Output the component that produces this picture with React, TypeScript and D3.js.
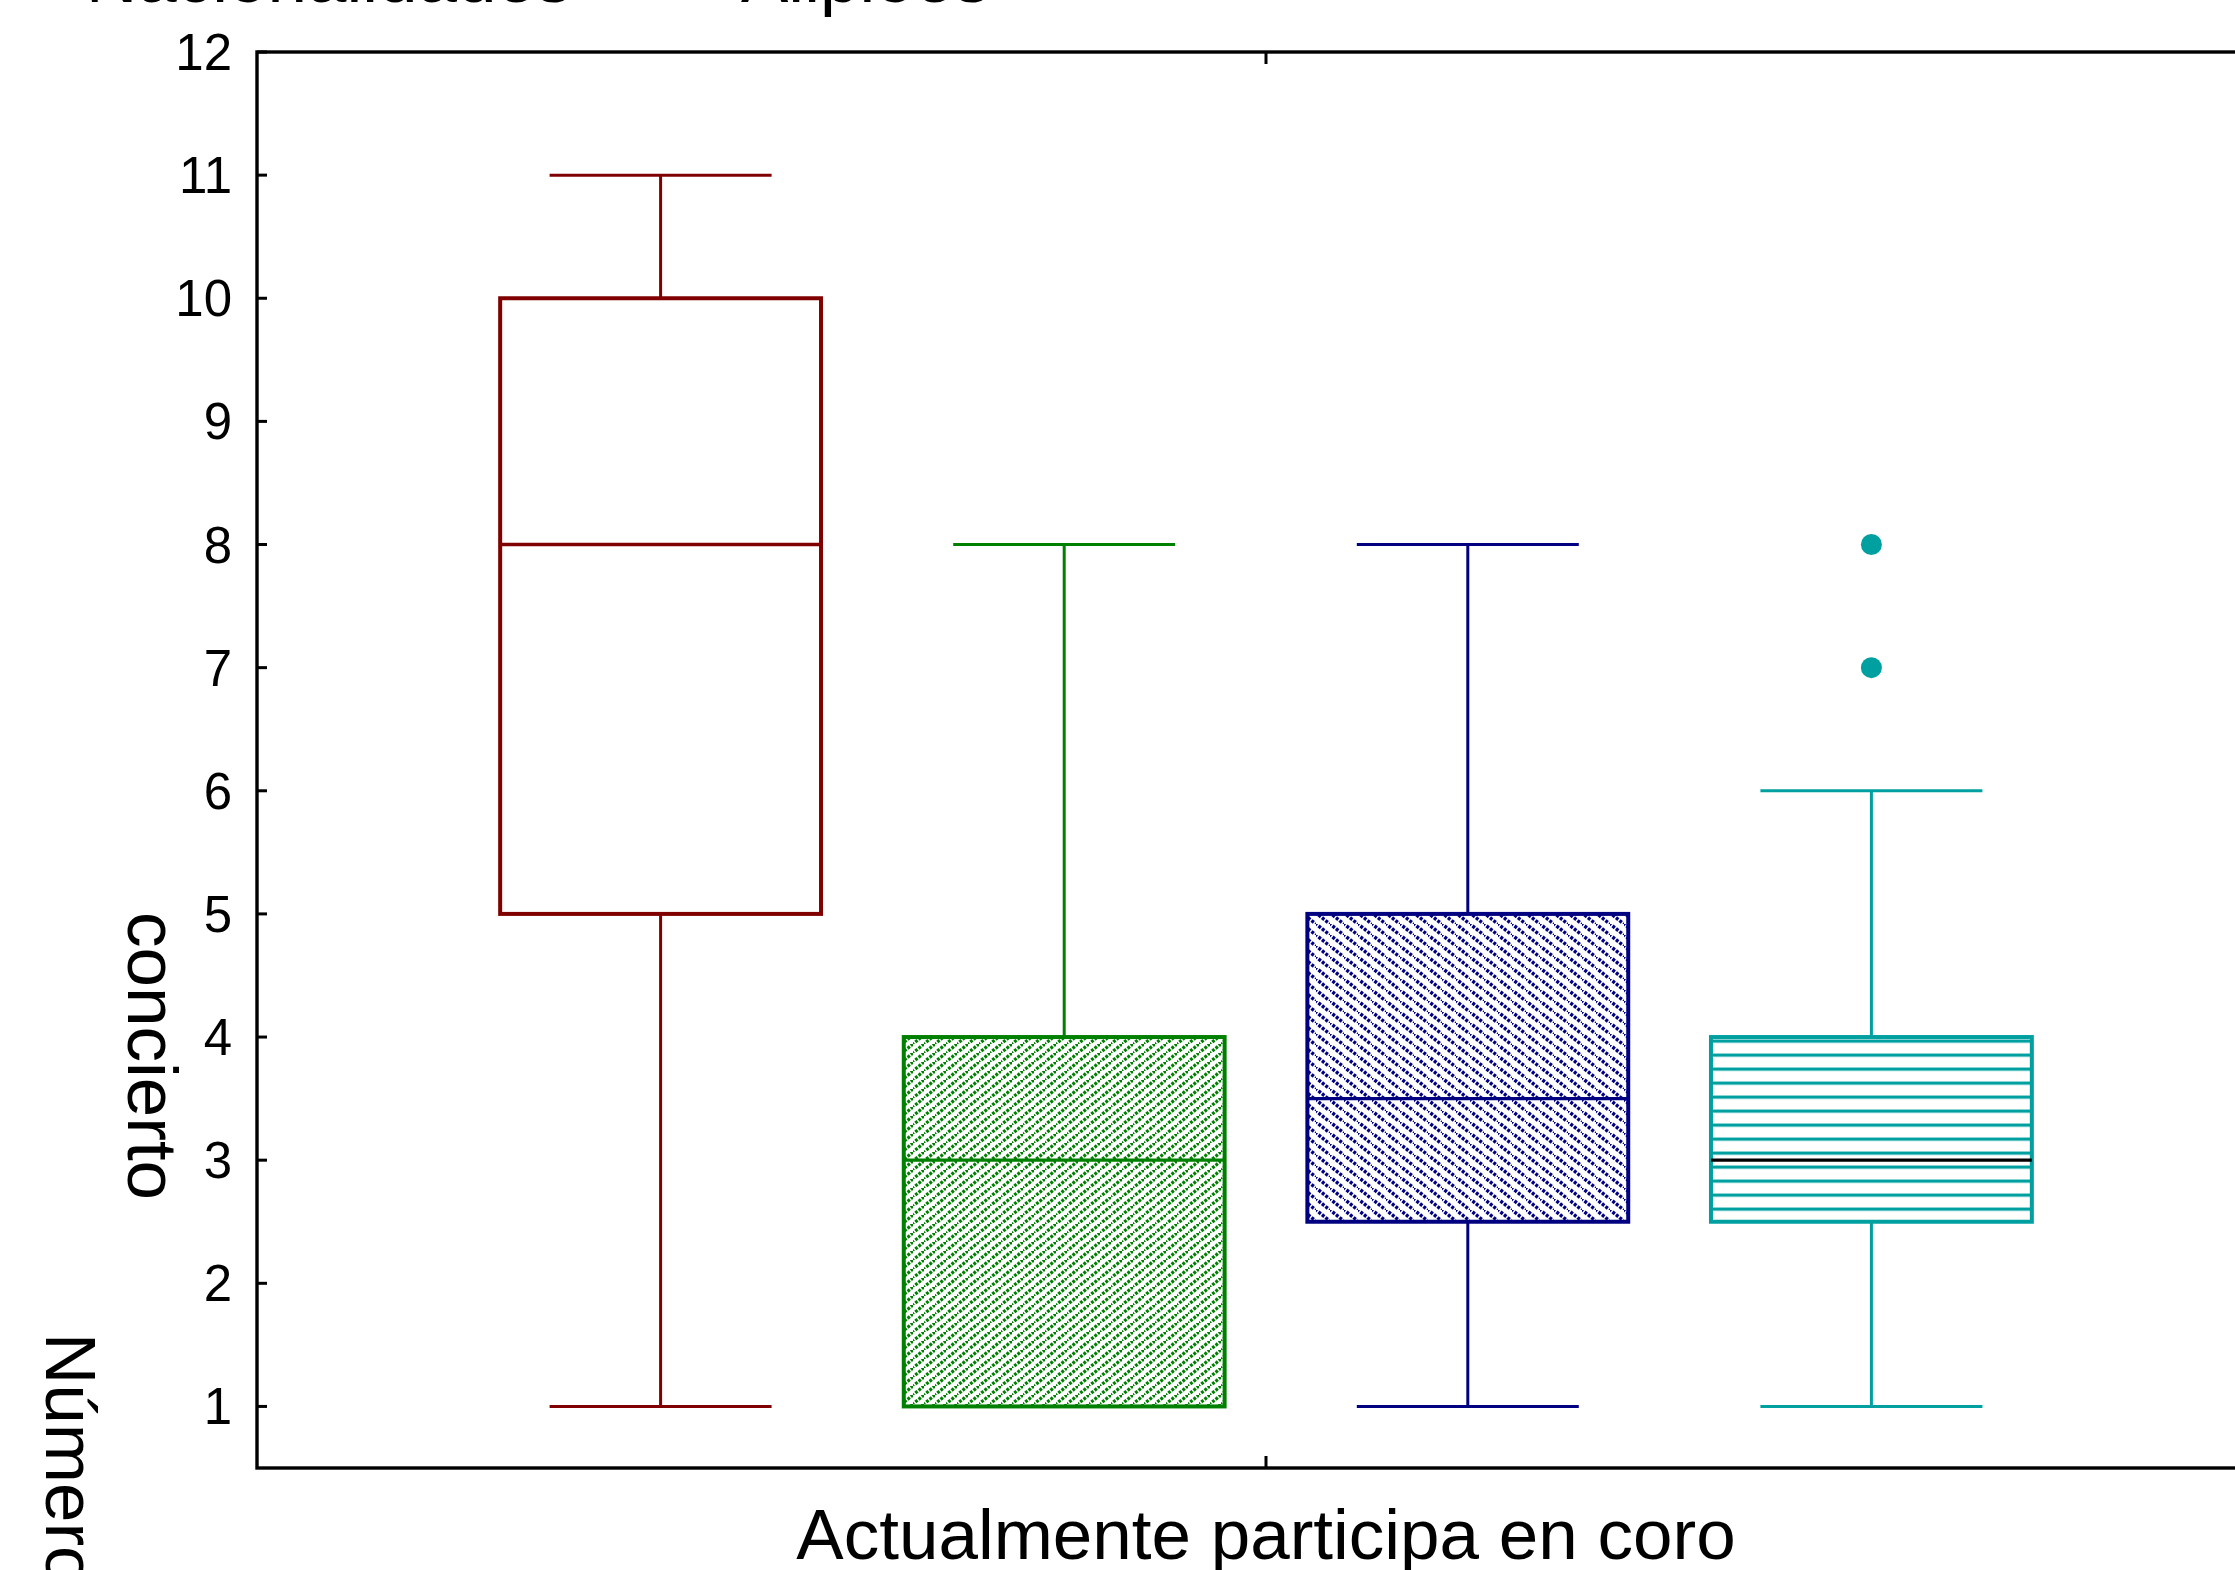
import React from "react";
import * as d3 from "d3";

// valores (número de conciertos por grupo)
const groups = ["grupo1", "grupo2", "grupo3", "grupo4"];
const whiskerLow = [1, 1, 1, 1];
const q1 = [5, 1, 2.5, 2.5];
const medians = [8, 3, 3.5, 3];
const q3 = [10, 4, 5, 4];
const whiskerHigh = [11, 8, 8, 6];
const outliers: number[][] = [[], [], [], [7, 8]];
const colors = ["#800000", "#008000", "#000080", "#00A0A0"];
const medianColors = ["#800000", "#008000", "#000080", "#000000"];
const fills = ["none", "url(#hatchGreen)", "url(#hatchBlue)", "url(#stripesTeal)"];
const yTicks = [1, 2, 3, 4, 5, 6, 7, 8, 9, 10, 11, 12];

const W = 2235;
const H = 1570;
const font = "'Liberation Sans', Arial, sans-serif";

export default function App() {
  const x = d3.scaleLinear().domain([0, groups.length + 1]).range([257, 2275]);
  const y = d3.scaleLinear().domain([0.5, 12]).range([1468, 52]);
  const unit = x(1) - x(0);
  const boxW = unit * 0.795;
  const capW = unit * 0.55;
  const midX = x((groups.length + 1) / 2);

  const gL = Math.hypot(11, 9);
  const bL = Math.hypot(14, 11);

  return (
    <svg
      width={W}
      height={H}
      style={{ position: "absolute", left: 0, top: 0, background: "#fff" }}
      fontFamily={font}
    >
      <defs>
        <pattern id="hatchGreen" patternUnits="userSpaceOnUse" width={11} height={9}>
          <rect width={11} height={9} fill="#fff" />
          <path d="M-1,9.8L12,-0.8" stroke="#008000" strokeWidth={3.2} strokeDasharray={`${gL / 5} ${gL / 10}`} />
        </pattern>
        <pattern id="hatchBlue" patternUnits="userSpaceOnUse" width={14} height={11}>
          <rect width={14} height={11} fill="#fff" />
          <path d="M-1,-0.8L15,11.8" stroke="#000080" strokeWidth={3.4} strokeDasharray={`${bL / 6} ${bL / 12}`} />
        </pattern>
        <pattern id="stripesTeal" patternUnits="userSpaceOnUse" width={20} height={14} y={y(4) + 16.5}>
          <rect width={20} height={14} fill="#fff" />
          <rect y={0} width={20} height={3.2} fill="#00A0A0" />
        </pattern>
      </defs>

      <rect width={W} height={H} fill="#fff" />

      {/* textos superiores recortados */}
      <text x={86} y={2} fontSize={71} fill="#000">Nacionalidades</text>
      <text x={741} y={2} fontSize={71} fill="#000">Alipioes</text>

      {/* cajas */}
      {groups.map((g, i) => {
        const cx = x(i + 1);
        const c = colors[i];
        return (
          <g key={g}>
            <line x1={cx} x2={cx} y1={y(q3[i])} y2={y(whiskerHigh[i])} stroke={c} strokeWidth={3} />
            <line x1={cx} x2={cx} y1={y(q1[i])} y2={y(whiskerLow[i])} stroke={c} strokeWidth={3} />
            <line x1={cx - capW / 2} x2={cx + capW / 2} y1={y(whiskerHigh[i])} y2={y(whiskerHigh[i])} stroke={c} strokeWidth={3} />
            <line x1={cx - capW / 2} x2={cx + capW / 2} y1={y(whiskerLow[i])} y2={y(whiskerLow[i])} stroke={c} strokeWidth={3} />
            <rect
              x={cx - boxW / 2}
              y={y(q3[i])}
              width={boxW}
              height={y(q1[i]) - y(q3[i])}
              fill={fills[i]}
              stroke={c}
              strokeWidth={4}
            />
            <line x1={cx - boxW / 2} x2={cx + boxW / 2} y1={y(medians[i])} y2={y(medians[i])} stroke={medianColors[i]} strokeWidth={3.4} />
            {outliers[i].map((v) => (
              <circle key={v} cx={cx} cy={y(v)} r={10.5} fill={c} />
            ))}
          </g>
        );
      })}

      {/* marco y ejes */}
      <rect x={x(0)} y={y(12)} width={x(5) - x(0)} height={y(0.5) - y(12)} fill="none" stroke="#000" strokeWidth={3.4} />
      {yTicks.map((t) => (
        <g key={t}>
          <line x1={x(0)} x2={x(0) + 10} y1={y(t)} y2={y(t)} stroke="#000" strokeWidth={3} />
          <text x={232} y={y(t) + 18} fontSize={51} textAnchor="end" fill="#000">
            {t}
          </text>
        </g>
      ))}
      <line x1={midX} x2={midX} y1={y(0.5)} y2={y(0.5) - 12} stroke="#000" strokeWidth={3} />
      <line x1={midX} x2={midX} y1={y(12)} y2={y(12) + 12} stroke="#000" strokeWidth={3} />

      {/* títulos de ejes */}
      <text x={midX} y={1559} fontSize={71} textAnchor="middle" fill="#000">
        Actualmente participa en coro
      </text>
      <text transform="translate(128,912) rotate(90)" fontSize={71} fill="#000">
        concierto
      </text>
      <text transform="translate(46,1333) rotate(90)" fontSize={71} fill="#000">
        Número de
      </text>
    </svg>
  );
}
